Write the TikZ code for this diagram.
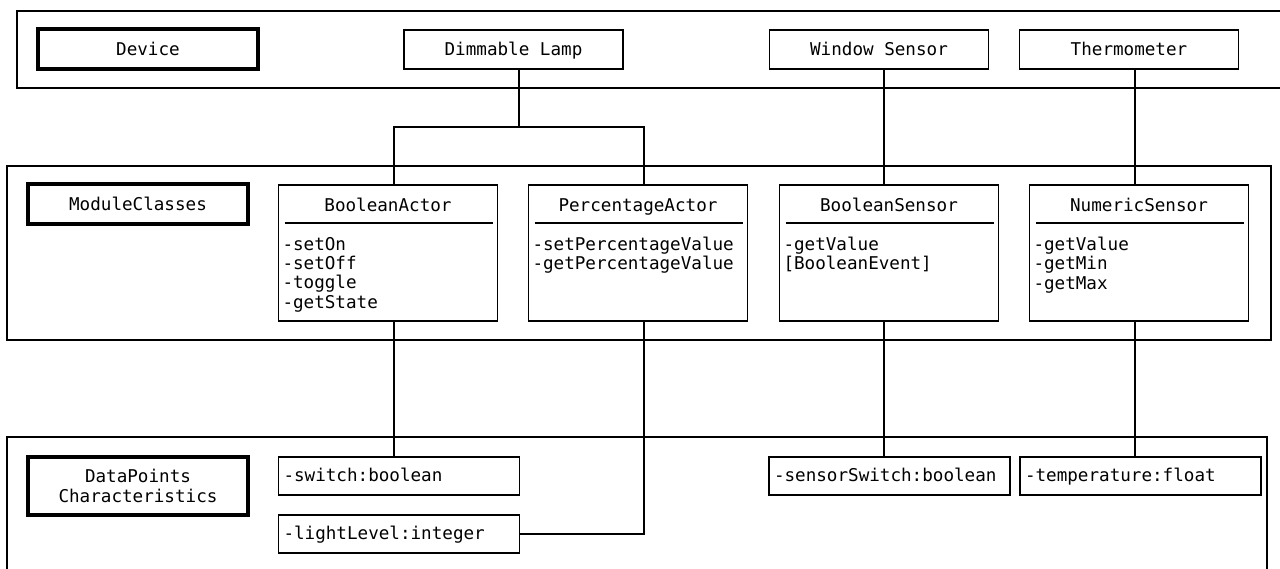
\documentclass[tikz,border=0pt]{standalone}
\usepackage{fontspec}
\setmonofont{DejaVu Sans Mono}
\usetikzlibrary{positioning}
\tikzset{
every node/.style={font=\ttfamily\fontsize{17.6}{19.4}\selectfont, outer sep=0pt}, % monospace everywhere
frame/.style={draw, inner sep=0pt}, % the three row frames
headbox/.style={draw, line width=3.3pt, minimum width=220pt, inner sep=0pt, align=center}, % row captions
namebox/.style={draw, minimum width=219pt, minimum height=39pt, inner sep=0pt, text height=13pt, text depth=2pt}, % devices
classbox/.style={draw, minimum width=219pt, minimum height=136pt, inner sep=0pt}, % module classes
ops/.style={anchor=north west, align=left, inner sep=0pt}, % method lists
databox/.style={draw, text width=231pt, inner xsep=5pt, inner ysep=0pt, minimum height=38pt, align=left, text height=13pt, text depth=2pt}, % data points
}

\begin{document}
\begin{tikzpicture}[x=1pt, y=-1pt, line width=1.3pt]
        \useasboundingbox (0,0) rectangle (1280,568);

        % row frames
        \node[frame, minimum width=1283pt, minimum height=77pt] (devrow) at (658.5,49.5) {};
        \node[frame, minimum width=1264pt, minimum height=174pt] (classrow) at (639,253) {};
        \node[frame, minimum width=1260pt, minimum height=183pt] (datarow) at (637,528.5) {};

        % devices
        \node[headbox, minimum height=40pt] (device) at (148,49) {Device};
        \node[namebox] (lamp) at (513.5,49.5) {Dimmable Lamp};
        \node[namebox] (window) at (879,49.5) {Window Sensor};
        \node[namebox, right=31pt of window] (thermo) {Thermometer};

        % module classes
        \node[headbox, minimum height=40pt] (modclasses) at (138,204) {ModuleClasses};
        \node[classbox] (bactor) at (388,253) {};
        \node[classbox, right=31pt of bactor] (pactor) {};
        \node[classbox, right=32pt of pactor] (bsensor) {};
        \node[classbox, right=31pt of bsensor] (nsensor) {};

        \node[anchor=base] (bactortitle) at ([yshift=-26pt]bactor.north) {BooleanActor};
        \node[anchor=base] (pactortitle) at ([yshift=-26pt]pactor.north) {PercentageActor};
        \node[anchor=base] (bsensortitle) at ([yshift=-26pt]bsensor.north) {BooleanSensor};
        \node[anchor=base] (nsensortitle) at ([yshift=-26pt]nsensor.north) {NumericSensor};
        \foreach \c in {bactor, pactor, bsensor, nsensor}
          \draw ([xshift=6pt, yshift=-38pt]\c.north west) -- ([xshift=-5pt, yshift=-38pt]\c.north east);

        \node[ops] (bactorops) at ([xshift=4pt, yshift=-52pt]bactor.north west) {-setOn\\-setOff\\-toggle\\-getState};
        \node[ops] (pactorops) at ([xshift=4pt, yshift=-52pt]pactor.north west) {-setPercentageValue\\-getPercentageValue};
        \node[ops] (bsensorops) at ([xshift=4pt, yshift=-52pt]bsensor.north west) {-getValue\\{[BooleanEvent]}};
        \node[ops] (nsensorops) at ([xshift=4pt, yshift=-52pt]nsensor.north west) {-getValue\\-getMin\\-getMax};

        % data points
        \node[headbox, minimum height=58pt] (datapoints) at (138,486) {DataPoints\\Characteristics};
        \node[databox] (switch) at (399,476) {-switch:boolean};
        \node[databox, below=20pt of switch] (light) {-lightLevel:integer};
        \node[databox] (sensorswitch) at (889.5,476) {-sensorSwitch:boolean};
        \node[databox, right=10pt of sensorswitch] (temp) {-temperature:float};

        % connectors
        \coordinate (lampfork) at (519,127);
        \draw ([xshift=5.5pt]lamp.south) -- (lampfork);
        \draw ([xshift=6pt]bactor.north) |- (lampfork) -| ([xshift=6pt]pactor.north);
        \draw ([xshift=5pt]window.south) -- ([xshift=-5pt]bsensor.north);
        \draw ([xshift=6pt]thermo.south) -- ([xshift=-4pt]nsensor.north);
        \draw ([xshift=6pt]bactor.south) -- ([xshift=-5pt]switch.north);
        \draw ([xshift=6pt]pactor.south) |- (light.east);
        \draw ([xshift=-5pt]bsensor.south) -- ([xshift=-5.5pt]sensorswitch.north);
        \draw ([xshift=-4pt]nsensor.south) -- ([xshift=-5.5pt]temp.north);
      \end{tikzpicture}
\end{document}
